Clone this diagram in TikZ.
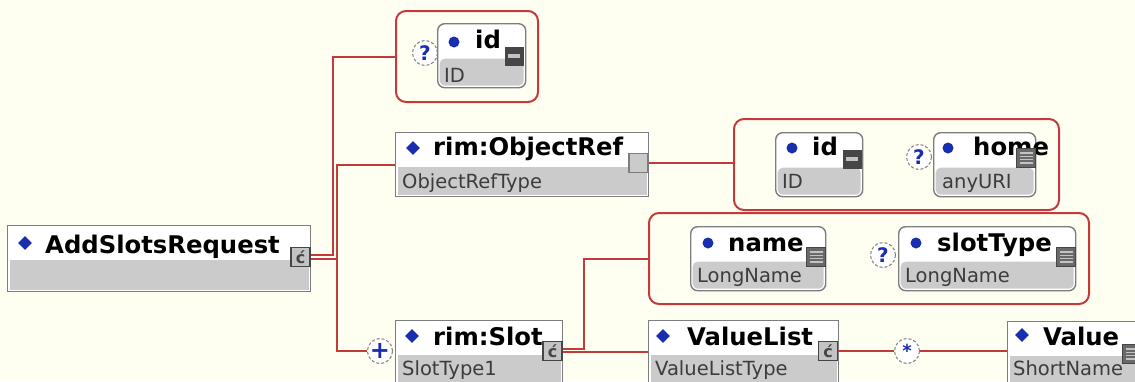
\documentclass[tikz,border=0pt]{standalone}
\usepackage{fontspec}
\setmainfont{DejaVu Sans}
\usetikzlibrary{shapes.geometric}
\definecolor{canvas}{RGB}{254,254,241}
\definecolor{boxline}{RGB}{125,125,125}
\definecolor{lowfill}{RGB}{203,203,203}
\definecolor{wire}{RGB}{196,58,58}
\definecolor{mark}{RGB}{25,45,175}
\definecolor{subtext}{RGB}{60,60,60}
\definecolor{icondark}{RGB}{70,70,70}
\definecolor{iconmid}{RGB}{105,105,105}
\definecolor{iconlight}{RGB}{195,195,195}
\begin{document}
\begin{tikzpicture}[x=1pt,y=-1pt,
  elem/.style={draw=boxline, line width=1.4pt, fill=white, inner sep=0pt,
    anchor=north west,
    path picture={\fill[lowfill]
      ([xshift=2pt,yshift=-34pt]path picture bounding box.north west) rectangle
      ([xshift=-2pt,yshift=2pt]path picture bounding box.south east);}},
  attr/.style={draw=boxline, line width=1.4pt, fill=white, inner sep=0pt,
    anchor=north west, rounded corners=7pt,
    path picture={\fill[lowfill, rounded corners=5pt]
      ([xshift=2pt,yshift=-35pt]path picture bounding box.north west) rectangle
      ([xshift=-2pt,yshift=2pt]path picture bounding box.south east);}},
  group/.style={draw=wire, line width=2pt, rounded corners=10pt, inner sep=0pt,
    anchor=north west},
  title/.style={font=\fontsize{24.3}{24}\selectfont\bfseries, inner sep=0pt,
    anchor=base west, text=black},
  sub/.style={font=\fontsize{19.5}{20}\selectfont, inner sep=0pt,
    anchor=base west, text=subtext},
  diam/.style={diamond, fill=mark, minimum size=14pt, inner sep=0pt},
  bullet/.style={circle, fill=mark, minimum size=11pt, inner sep=0pt},
  badge/.style={circle, draw=gray, densely dashed, line width=1pt, fill=white,
    minimum size=25pt, inner sep=0pt, text=mark,
    font=\fontsize{20}{20}\selectfont\bfseries},
  cplx/.style={draw=icondark, line width=1.2pt, fill=iconlight,
    minimum size=19pt, inner sep=0pt, text=icondark,
    font=\fontsize{16}{16}\selectfont\bfseries},
  plainicon/.style={draw=boxline, line width=1.2pt, fill=lowfill,
    minimum size=19pt, inner sep=0pt},
  keyicon/.style={draw=icondark, line width=1pt, fill=icondark,
    minimum size=18pt, inner sep=0pt,
    path picture={\fill[iconlight]
      ([xshift=3pt,yshift=2pt]path picture bounding box.west) rectangle
      ([xshift=-3pt,yshift=-2pt]path picture bounding box.east);}},
  lineicon/.style={draw=icondark, line width=1pt, fill=iconmid,
    minimum size=19pt, inner sep=0pt,
    path picture={\foreach \k in {-5,-1.7,1.7,5}{\draw[iconlight, line width=1.2pt]
      ([xshift=3pt,yshift=\k pt]path picture bounding box.west) --
      ([xshift=-3pt,yshift=\k pt]path picture bounding box.east);}}},
  conn/.style={draw=wire, line width=2pt}
]
\useasboundingbox[fill=canvas] (0,0) rectangle (1135,381);
\clip (0,0) rectangle (1135,381);

% ---- root element ----
\node[elem, minimum width=303pt, minimum height=66pt] (asr) at (7,225) {};
\node[diam] (asr-d) at (25,243) {};
\node[title] (asr-t) at (45,253) {AddSlotsRequest};
\node[cplx] (asr-i) at (300.5,257) {ć};

% ---- optional id attribute ----
\node[group, minimum width=142pt, minimum height=91pt] (g1) at (395,10) {};
\node[badge] (g1-q) at (425,53) {?};
\node[attr, minimum width=88pt, minimum height=64pt] (id1) at (437,23) {};
\node[bullet] (id1-d) at (454,42) {};
\node[title] (id1-t) at (475,48) {id};
\node[sub] (id1-s) at (444,82) {ID};
\node[keyicon] (id1-i) at (514,56) {};

% ---- rim:ObjectRef ----
\node[elem, minimum width=253pt, minimum height=64pt] (orf) at (395,132) {};
\node[diam] (orf-d) at (413,148) {};
\node[title] (orf-t) at (433,155) {rim:ObjectRef};
\node[sub] (orf-s) at (402,188) {ObjectRefType};
\node[plainicon] (orf-i) at (638.5,163) {};

% ---- ObjectRef attributes ----
\node[group, minimum width=325pt, minimum height=91pt] (g2) at (733,118) {};
\node[attr, minimum width=87pt, minimum height=64pt] (id2) at (775,132) {};
\node[bullet] (id2-d) at (792,148) {};
\node[title] (id2-t) at (812,155) {id};
\node[sub] (id2-s) at (782,188) {ID};
\node[keyicon] (id2-i) at (852,159) {};
\node[badge] (g2-q) at (919,157) {?};
\node[attr, minimum width=102pt, minimum height=64pt] (home) at (933,132) {};
\node[bullet] (home-d) at (948,148) {};
\node[title] (home-t) at (973,155) {home};
\node[sub] (home-s) at (942,188) {anyURI};
\node[lineicon] (home-i) at (1026,158) {};

% ---- Slot attributes ----
\node[group, minimum width=440pt, minimum height=91pt] (g3) at (648,212) {};
\node[attr, minimum width=135pt, minimum height=64pt] (name) at (690,226) {};
\node[bullet] (name-d) at (708,243) {};
\node[title] (name-t) at (728,251) {name};
\node[sub] (name-s) at (697,282) {LongName};
\node[lineicon] (name-i) at (816,257) {};
\node[badge] (g3-q) at (883,255) {?};
\node[attr, minimum width=177pt, minimum height=64pt] (stype) at (898,226) {};
\node[bullet] (stype-d) at (916,243) {};
\node[title] (stype-t) at (937,251) {slotType};
\node[sub] (stype-s) at (905,282) {LongName};
\node[lineicon] (stype-i) at (1066,257) {};

% ---- rim:Slot ----
\node[badge, font=\fontsize{24}{24}\selectfont\bfseries] (plus) at (380,351) {+};
\node[elem, minimum width=167pt, minimum height=66pt] (slot) at (395,320) {};
\node[diam] (slot-d) at (412,336) {};
\node[title] (slot-t) at (433,345) {rim:Slot};
\node[sub] (slot-s) at (402,375) {SlotType1};
\node[cplx] (slot-i) at (552.5,351) {ć};

% ---- ValueList ----
\node[elem, minimum width=190pt, minimum height=66pt] (vl) at (648,320) {};
\node[diam] (vl-d) at (663,336) {};
\node[title] (vl-t) at (687,345) {ValueList};
\node[sub] (vl-s) at (655,375) {ValueListType};
\node[cplx] (vl-i) at (828,351) {ć};
\node[badge, font=\fontsize{18}{18}\selectfont\bfseries] (star) at (907,351) {*};

% ---- Value ----
\node[elem, minimum width=140pt, minimum height=66pt] (val) at (1007,321) {};
\node[diam] (val-d) at (1022,335) {};
\node[title] (val-t) at (1043,345) {Value};
\node[sub] (val-s) at (1013,375) {ShortName};
\node[lineicon] (val-i) at (1132,354) {};

% ---- connectors ----
\draw[conn] ([yshift=2pt]asr-i.east) -- ++(22,0) coordinate (ja) |- (g1.west);
\draw[conn] ([yshift=-2pt]asr-i.east) -- ++(26,0) coordinate (jb) |- (orf.west);
\draw[conn] (jb) |- (plus.west);
\draw[conn] (orf-i.east) -- (orf-i.east -| g2.west);
\draw[conn] ([yshift=2pt]slot-i.east) -- ++(21,0) |- (g3.west);
\draw[conn] ([yshift=-1pt]slot-i.east) coordinate (sa) -- (sa -| vl.west);
\draw[conn] (vl-i.east) -- (star.west);
\draw[conn] (star.east) -- (star.east -| val.west);
\end{tikzpicture}
\end{document}
